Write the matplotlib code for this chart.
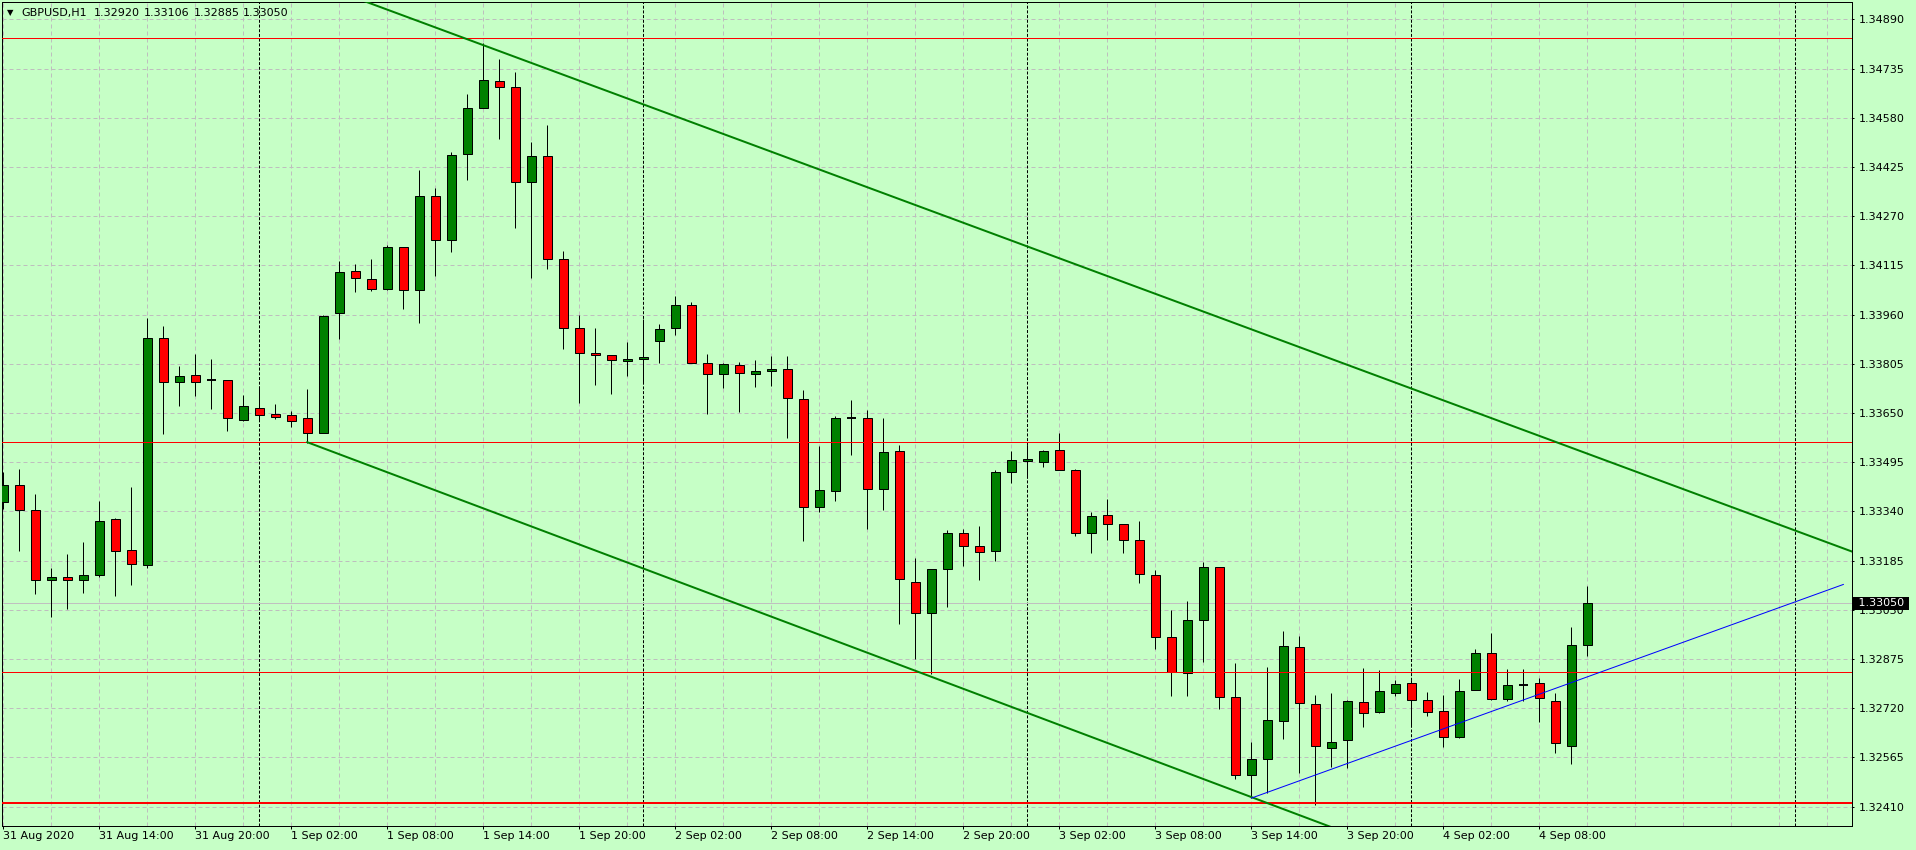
import matplotlib
matplotlib.use("Agg")
import matplotlib.pyplot as plt
from matplotlib.patches import Rectangle
from matplotlib.transforms import blended_transform_factory

# GBPUSD H1, one bar per hour starting 31 Aug 2020 08:00
opens = [1.33369, 1.33422, 1.33343, 1.33123, 1.33132, 1.33123, 1.33139, 1.33315, 1.33217, 1.33170,
         1.33885, 1.33747, 1.33769, 1.33753, 1.33753, 1.33627, 1.33665, 1.33646, 1.33643, 1.33633,
         1.33586, 1.33964, 1.34096, 1.34071, 1.34041, 1.34172, 1.34036, 1.34332, 1.34196, 1.34465,
         1.34610, 1.34695, 1.34676, 1.34376, 1.34458, 1.34134, 1.33917, 1.33838, 1.33832, 1.33813,
         1.33819, 1.33876, 1.33917, 1.33989, 1.33806, 1.33772, 1.33800, 1.33772, 1.33781, 1.33788,
         1.33693, 1.33353, 1.33403, 1.33633, 1.33633, 1.33410, 1.33529, 1.33117, 1.33019, 1.33158,
         1.33271, 1.33230, 1.33214, 1.33463, 1.33498, 1.33495, 1.33532, 1.33472, 1.33271, 1.33328,
         1.33299, 1.33249, 1.33139, 1.32943, 1.32830, 1.32997, 1.33164, 1.32754, 1.32509, 1.32559,
         1.32679, 1.32912, 1.32732, 1.32594, 1.32619, 1.32739, 1.32707, 1.32767, 1.32799, 1.32745,
         1.32710, 1.32628, 1.32776, 1.32893, 1.32748, 1.32793, 1.32799, 1.32742, 1.32600, 1.32920]
highs = [1.33463, 1.33473, 1.33394, 1.33162, 1.33205, 1.33243, 1.33373, 1.33318, 1.33416, 1.33949,
         1.33924, 1.33798, 1.33836, 1.33820, 1.33753, 1.33707, 1.33734, 1.33678, 1.33656, 1.33726,
         1.33958, 1.34129, 1.34119, 1.34135, 1.34178, 1.34172, 1.34415, 1.34359, 1.34472, 1.34655,
         1.34814, 1.34765, 1.34724, 1.34503, 1.34557, 1.34160, 1.33959, 1.33919, 1.33832, 1.33873,
         1.33945, 1.33930, 1.34018, 1.34000, 1.33836, 1.33806, 1.33810, 1.33817, 1.33829, 1.33830,
         1.33722, 1.33546, 1.33639, 1.33691, 1.33658, 1.33634, 1.33548, 1.33192, 1.33158, 1.33280,
         1.33284, 1.33294, 1.33469, 1.33529, 1.33548, 1.33532, 1.33586, 1.33475, 1.33338, 1.33380,
         1.33299, 1.33309, 1.33154, 1.33030, 1.33058, 1.33181, 1.33164, 1.32862, 1.32614, 1.32849,
         1.32962, 1.32948, 1.32761, 1.32767, 1.32746, 1.32846, 1.32841, 1.32808, 1.32808, 1.32770,
         1.32761, 1.32812, 1.32906, 1.32956, 1.32843, 1.32843, 1.32814, 1.32767, 1.32975, 1.33106]
lows = [1.33347, 1.33216, 1.33081, 1.33009, 1.33033, 1.33084, 1.33135, 1.33075, 1.33109, 1.33163,
        1.33585, 1.33673, 1.33705, 1.33664, 1.33594, 1.33624, 1.33628, 1.33632, 1.33607, 1.33555,
        1.33586, 1.33884, 1.34032, 1.34035, 1.34037, 1.33978, 1.33933, 1.34082, 1.34158, 1.34385,
        1.34610, 1.34513, 1.34234, 1.34076, 1.34105, 1.33853, 1.33682, 1.33739, 1.33711, 1.33767,
        1.33745, 1.33807, 1.33895, 1.33809, 1.33648, 1.33730, 1.33654, 1.33733, 1.33736, 1.33572,
        1.33248, 1.33339, 1.33374, 1.33519, 1.33286, 1.33345, 1.32986, 1.32874, 1.32827, 1.33040,
        1.33169, 1.33125, 1.33185, 1.33431, 1.33444, 1.33481, 1.33469, 1.33264, 1.33210, 1.33251,
        1.33210, 1.33116, 1.32908, 1.32760, 1.32760, 1.32867, 1.32719, 1.32496, 1.32436, 1.32452,
        1.32624, 1.32517, 1.32414, 1.32536, 1.32533, 1.32662, 1.32704, 1.32758, 1.32667, 1.32697,
        1.32599, 1.32625, 1.32776, 1.32745, 1.32742, 1.32742, 1.32678, 1.32580, 1.32543, 1.32885]
closes = [1.33422, 1.33343, 1.33123, 1.33132, 1.33123, 1.33139, 1.33309, 1.33214, 1.33173, 1.33885,
          1.33747, 1.33766, 1.33747, 1.33753, 1.33633, 1.33671, 1.33643, 1.33636, 1.33624, 1.33586,
          1.33955, 1.34093, 1.34074, 1.34039, 1.34172, 1.34036, 1.34332, 1.34196, 1.34462, 1.34610,
          1.34698, 1.34676, 1.34376, 1.34458, 1.34134, 1.33917, 1.33838, 1.33832, 1.33816, 1.33819,
          1.33825, 1.33913, 1.33989, 1.33809, 1.33772, 1.33803, 1.33775, 1.33781, 1.33790, 1.33696,
          1.33353, 1.33406, 1.33633, 1.33633, 1.33410, 1.33526, 1.33126, 1.33019, 1.33158, 1.33271,
          1.33230, 1.33211, 1.33463, 1.33501, 1.33504, 1.33529, 1.33472, 1.33271, 1.33325, 1.33299,
          1.33249, 1.33142, 1.32943, 1.32835, 1.32997, 1.33164, 1.32754, 1.32509, 1.32559, 1.32682,
          1.32915, 1.32736, 1.32600, 1.32613, 1.32742, 1.32704, 1.32773, 1.32795, 1.32745, 1.32707,
          1.32628, 1.32773, 1.32893, 1.32748, 1.32792, 1.32793, 1.32751, 1.32610, 1.32918, 1.33050]

time_labels = ["31 Aug 2020", "31 Aug 14:00", "31 Aug 20:00", "1 Sep 02:00", "1 Sep 08:00",
               "1 Sep 14:00", "1 Sep 20:00", "2 Sep 02:00", "2 Sep 08:00", "2 Sep 14:00",
               "2 Sep 20:00", "3 Sep 02:00", "3 Sep 08:00", "3 Sep 14:00", "3 Sep 20:00",
               "4 Sep 02:00", "4 Sep 08:00"]
day_starts = [16, 40, 64, 88, 112]

price_ticks = [1.32410, 1.32565, 1.32720, 1.32875, 1.33030, 1.33185, 1.33340, 1.33495, 1.33650,
               1.33805, 1.33960, 1.34115, 1.34270, 1.34425, 1.34580, 1.34735, 1.34890]

levels = [1.34832, 1.33558, 1.32833, 1.32423]
level_widths = [0.72, 0.72, 0.72, 1.44]

upper_bars = [20, 116]
upper_prices = [1.34995, 1.33205]
lower_bars = [19, 90]
lower_prices = [1.33558, 1.32213]
blue_bars = [78, 115]
blue_prices = [1.32437, 1.33110]

bg = '#c6ffc6'
bull = '#008000'
bear = '#ff0000'
gridc = '#bebebe'
px = 0.72  # one pixel in points at dpi 100

fig = plt.figure(figsize=(19.16, 8.5), dpi=100, facecolor=bg)
ax = fig.add_axes([2 / 1916, 24 / 850, 1850 / 1916, 824 / 850])
ax.set_facecolor(bg)
ax.set_xlim(-0.081, 115.54)
ax.set_ylim(1.323492, 1.349445)

# grid
for p in price_ticks:
    ax.axhline(p, color=gridc, lw=px, ls=(0, (4, 3)), zorder=1)
for b in range(0, 116, 3):
    ax.axvline(b, color=gridc, lw=px, ls=(0, (4, 3)), zorder=1)
for b in day_starts:
    ax.axvline(b, color='black', lw=px, ls=(0, (3, 1.7)), zorder=1.5)

# bid line
ax.axhline(closes[-1], color='#c0c0c0', lw=px, zorder=1.6)

# candles
w = 0.58
for i in range(len(opens)):
    o, h, l, c = opens[i], highs[i], lows[i], closes[i]
    ax.vlines(i, l, h, color='black', lw=px, zorder=3)
    if abs(c - o) < 1e-6:
        ax.hlines(o, i - w / 2, i + w / 2, color='black', lw=1.4, zorder=4)
    else:
        col = bull if c > o else bear
        ax.add_patch(Rectangle((i - w / 2, min(o, c)), w, abs(c - o),
                               facecolor=col, edgecolor='black', lw=px, zorder=4))

# objects
for lv, lw in zip(levels, level_widths):
    ax.axhline(lv, color='#ff0000', lw=lw, zorder=5)
ax.plot(upper_bars, upper_prices, color='#008000', lw=1.44, zorder=5)
ax.plot(lower_bars, lower_prices, color='#008000', lw=1.44, zorder=5)
ax.plot(blue_bars, blue_prices, color='#0000ff', lw=px, zorder=5)

# axes
for s in ax.spines.values():
    s.set_color('black')
    s.set_linewidth(px)
ax.yaxis.tick_right()
ax.set_yticks(price_ticks)
ax.set_yticklabels([f"{p:.5f}" for p in price_ticks])
ax.set_xticks(range(0, 6 * len(time_labels), 6))
ax.set_xticklabels(time_labels, ha='left')
ax.tick_params(axis='y', direction='out', length=1.5, width=px, pad=3.6, labelsize=8, colors='black')
ax.tick_params(axis='x', direction='out', length=2.2, width=px, pad=1.2, labelsize=8, colors='black')

# bid label
tr = blended_transform_factory(ax.transAxes, ax.transData)
ax.text(1 + 3 / 1850, closes[-1], f" {closes[-1]:.5f} ", transform=tr, ha='left', va='center',
        color='white', fontsize=8, clip_on=False, zorder=10,
        bbox=dict(boxstyle='square,pad=0.15', fc='black', ec='none'))

# header
hy = 1 - 13 / 850
fig.text(7 / 1916, hy, '\u25bc', fontsize=6, va='center', ha='left', color='black')
fig.text(21 / 1916, hy, 'GBPUSD,H1', fontsize=8, va='center', ha='left', color='black')
header_x = [94, 144, 194, 243]
for x, v in zip(header_x, [opens[-1], highs[-1], lows[-1], closes[-1]]):
    fig.text(x / 1916, hy, f"{v:.5f}", fontsize=8, va='center', ha='left', color='black')

fig.savefig('out.png', dpi=100, facecolor=bg)
